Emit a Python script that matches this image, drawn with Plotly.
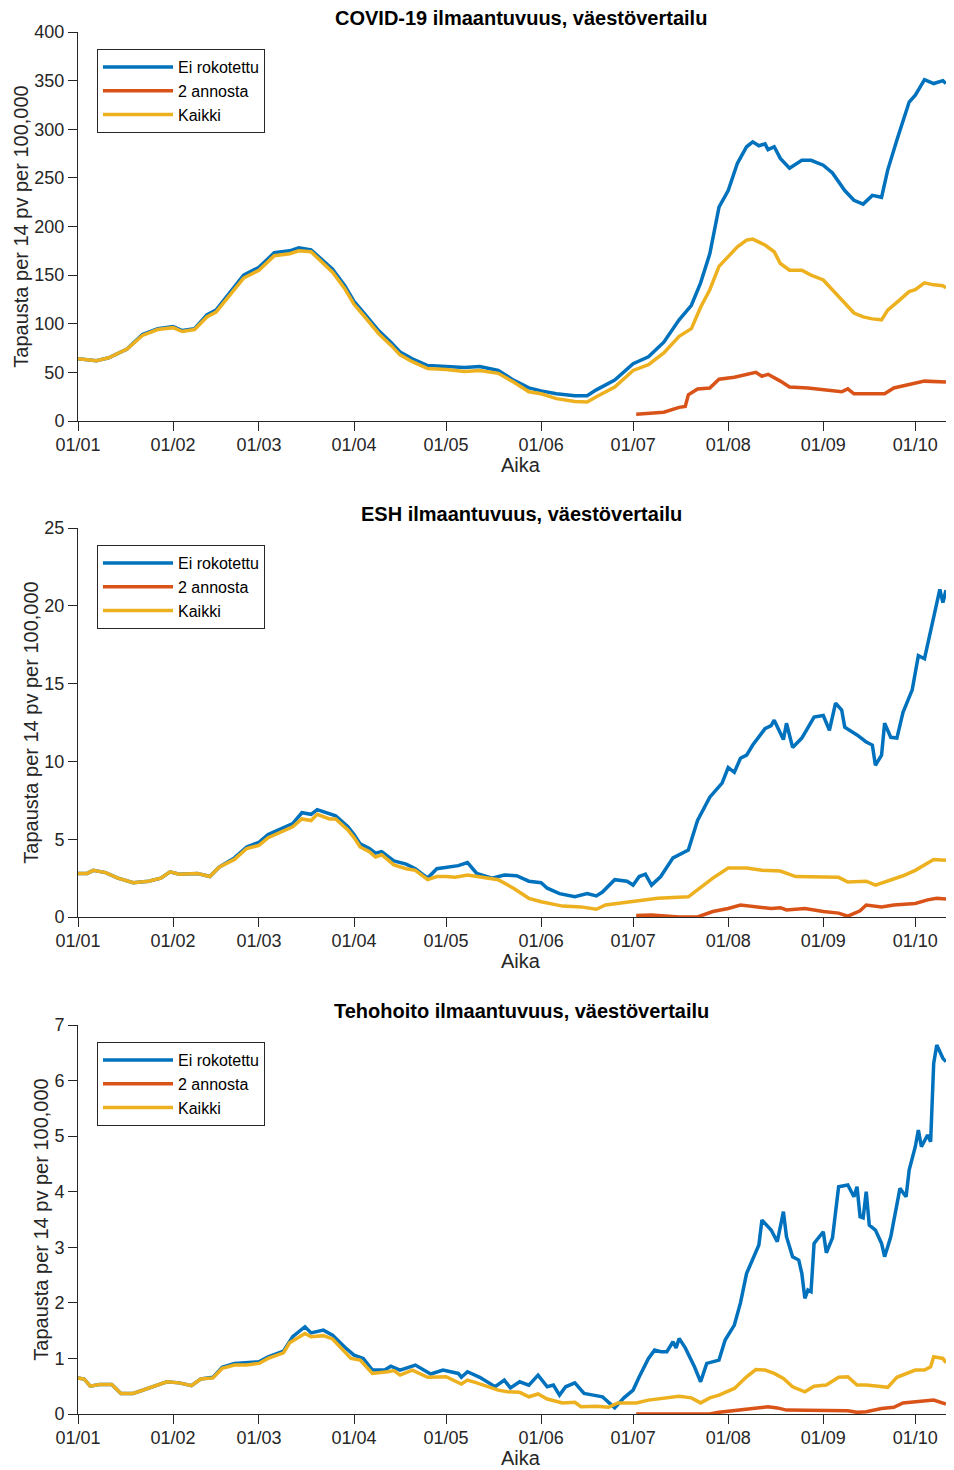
import pandas as pd
import plotly.graph_objects as go

BASE = pd.Timestamp("2021-01-01")

# ---------------- data (day offsets from 1 Jan 2021) ----------------
# Panel 1: COVID-19 ilmaantuvuus
covid_unvax_days = [0,6,10,16,21,26,31,34,38,42,45,50,54,59,64,69,72,76,80,83,87,90,93,98,102,105,109,114,120,126,
                    131,137,142,147,151,156,162,166,169,175,181,186,191,196,200,203,206,209,212,215,218,220,222,224,225,227,229,232,236,239,
                    243,246,250,253,256,259,262,264,267,271,273,276,279,282,283]
covid_unvax = [64,62,65,74,89,95,97,93,95,109,114,134,150,158,173,175,178,176,165,156,139,123,112,93,81,71,64,57,56,55,
               56,52,42,34,31,28,26,26,32,42,59,66,81,104,119,142,172,220,237,265,282,287,283,285,279,282,270,260,268,268,
               263,255,237,227,223,232,230,258,289,328,335,351,347,350,347]
covid_2dose_days = [182,191,196,198,199,202,206,209,214,218,221,223,225,229,232,238,245,249,251,253,262,263,266,270,276,283]
covid_2dose = [7,9,14,15,27,33,34,43,45,48,50,46,48,41,35,34,32,30,33,28,28,28,34,37,41,40]
covid_all_days = [0,6,10,16,21,26,31,34,38,42,45,50,54,59,64,69,72,76,80,83,87,90,93,98,102,105,109,114,120,126,
                  131,137,142,147,151,156,162,166,169,175,181,186,191,196,200,203,206,209,212,215,218,220,224,227,229,232,236,239,243,246,
                  250,253,256,259,262,264,267,271,273,276,279,282,283]
covid_all = [64,62,65,74,88,94,96,92,94,107,112,131,147,155,170,172,175,174,162,153,136,120,109,90,78,68,61,54,53,51,
             52,49,40,30,28,23,20,19.5,25,35,52,58,70,87,95,117,135,159,169,179,186,187,181,174,162,155,155,150,145,135,
             122,111,107,105,104,114,122,133,135,142,140,139,137]

# Panel 2: ESH ilmaantuvuus
esh_unvax_days = [0,3,5,9,13,18,23,27,30,33,39,43,46,51,55,59,62,67,70,73,76,78,82,84,88,90,92,95,97,99,
                  103,107,110,114,117,120,124,127,130,135,139,143,147,151,153,157,162,166,169,171,175,179,181,183,185,187,190,194,199,202,
                  206,210,212,214,216,218,220,224,226,227,230,231,233,236,238,240,243,245,247,249,250,254,257,259,260,262,263,265,267,269,
                  272,274,276,279,281,282,283]
esh_unvax = [2.8,2.8,3.0,2.85,2.5,2.2,2.3,2.5,2.9,2.75,2.8,2.6,3.2,3.8,4.5,4.8,5.3,5.7,6.0,6.7,6.6,6.9,6.6,6.5,5.8,5.3,4.7,4.4,4.1,4.2,
             3.6,3.4,3.1,2.5,3.1,3.2,3.3,3.5,2.8,2.5,2.7,2.65,2.3,2.2,1.85,1.5,1.3,1.5,1.35,1.6,2.4,2.3,2.05,2.6,2.75,2.05,2.6,3.8,4.3,6.2,
             7.7,8.6,9.6,9.3,10.2,10.4,11.05,12.1,12.3,12.65,11.4,12.45,10.9,11.5,12.15,12.85,12.95,12.0,13.75,13.3,12.2,11.7,11.25,11.05,9.75,10.4,12.45,11.55,11.5,13.15,
             14.6,16.8,16.6,19.4,21.05,20.2,21.0]
esh_2dose_days = [182,187,196,202,207,212,216,220,226,229,231,237,243,248,251,255,257,262,266,273,277,280,283]
esh_2dose = [0.1,0.13,0.0,0.0,0.35,0.55,0.77,0.67,0.55,0.6,0.45,0.55,0.35,0.25,0.05,0.4,0.77,0.65,0.77,0.87,1.1,1.2,1.15]
esh_all_days = [0,3,5,9,13,18,23,27,30,33,39,43,46,51,55,59,62,67,70,73,76,78,82,84,88,90,92,95,97,99,
                103,107,110,114,117,120,123,127,130,137,142,147,151,158,164,169,172,181,186,189,199,203,207,212,218,223,229,234,
                243,248,251,257,260,264,269,273,276,279,283]
esh_all = [2.8,2.8,3.0,2.85,2.5,2.2,2.3,2.5,2.9,2.75,2.8,2.6,3.2,3.7,4.4,4.6,5.1,5.5,5.8,6.3,6.2,6.6,6.3,6.3,5.6,5.1,4.5,4.2,3.85,4.0,
           3.35,3.1,3.0,2.4,2.6,2.6,2.55,2.7,2.6,2.4,1.85,1.2,0.98,0.7,0.65,0.5,0.77,1.0,1.15,1.2,1.3,1.9,2.5,3.15,3.15,3.0,2.95,2.6,
           2.6,2.55,2.25,2.3,2.05,2.3,2.65,3.0,3.35,3.7,3.65]

# Panel 3: Tehohoito ilmaantuvuus
icu_unvax_days = [0,2,4,7,11,12,14,18,21,26,29,33,37,40,44,47,51,59,62,67,70,74,76,80,83,87,90,93,96,100,
                  102,105,110,115,119,124,125,127,131,136,139,141,144,147,150,153,155,157,159,162,165,168,171,174,175,178,181,183,186,188,
                  190,192,194,195,196,198,201,203,205,209,211,214,216,218,220,222,223,226,228,230,231,233,235,236,237,238,239,240,243,244,
                  246,248,251,253,254,255,256,257,258,260,262,263,265,267,268,270,271,273,274,275,277,278,279,280,282,283]
icu_unvax = [0.65,0.63,0.5,0.53,0.53,0.48,0.37,0.37,0.43,0.52,0.58,0.56,0.51,0.63,0.66,0.84,0.91,0.94,1.03,1.13,
             1.39,1.57,1.46,1.51,1.42,1.2,1.06,1.0,0.79,0.79,0.86,0.79,0.88,0.72,0.79,0.73,0.66,0.76,0.66,0.49,
             0.61,0.47,0.58,0.52,0.70,0.49,0.52,0.34,0.49,0.56,0.37,0.34,0.31,0.16,0.11,0.29,0.43,0.67,1.0,1.15,
             1.12,1.12,1.30,1.19,1.36,1.19,0.85,0.58,0.91,0.97,1.33,1.6,2.0,2.53,2.8,3.04,3.49,3.31,3.10,3.64,
             3.19,2.83,2.77,2.53,2.08,2.23,2.2,3.07,3.28,2.9,3.17,4.09,4.12,3.91,4.09,3.55,3.53,4.0,3.4,3.31,
             3.07,2.83,3.19,3.79,4.06,3.91,4.39,4.81,5.11,4.81,5.02,4.9,6.31,6.64,6.4,6.34]
icu_2dose_days = [182,206,209,215,220,225,228,231,240,251,254,257,262,266,269,274,279,283]
icu_2dose = [0.0,0.0,0.03,0.06,0.1,0.13,0.11,0.07,0.06,0.06,0.03,0.04,0.1,0.12,0.2,0.22,0.25,0.18]
icu_all_days = [0,2,4,7,11,12,14,18,21,26,29,33,37,40,44,47,51,55,59,62,67,69,72,74,76,80,83,87,89,92,
                96,101,103,105,109,114,120,125,127,130,137,140,144,147,150,153,158,162,164,169,173,176,182,186,191,196,200,203,206,209,
                214,218,221,224,227,230,233,237,240,244,248,251,254,257,261,264,267,270,273,276,278,279,282,283]
icu_all = [0.65,0.63,0.5,0.53,0.53,0.48,0.37,0.37,0.43,0.52,0.58,0.56,0.51,0.63,0.65,0.82,0.88,0.88,0.91,1.0,
           1.1,1.28,1.39,1.45,1.39,1.41,1.35,1.12,1.0,0.97,0.73,0.76,0.78,0.70,0.79,0.66,0.67,0.54,0.61,0.56,
           0.43,0.4,0.39,0.31,0.36,0.27,0.2,0.21,0.13,0.14,0.12,0.2,0.2,0.25,0.29,0.32,0.29,0.2,0.29,0.34,
           0.46,0.67,0.8,0.79,0.73,0.64,0.49,0.4,0.5,0.52,0.66,0.67,0.52,0.52,0.5,0.48,0.66,0.72,0.79,0.79,
           0.85,1.03,1.0,0.92]

series_names = ["Ei rokotettu", "2 annosta", "Kaikki"]
titles = ["COVID-19 ilmaantuvuus, väestövertailu",
          "ESH ilmaantuvuus, väestövertailu",
          "Tehohoito ilmaantuvuus, väestövertailu"]
y_ranges = [(0, 400, 50), (0, 25, 5), (0, 7, 1)]
month_ticks = ["2021-%02d-01" % m for m in range(1, 11)]
month_labels = ["01/%02d" % m for m in range(1, 11)]
x_label = "Aika"
y_label = "Tapausta per 14 pv per 100,000"

panels = [
    [(covid_unvax_days, covid_unvax), (covid_2dose_days, covid_2dose), (covid_all_days, covid_all)],
    [(esh_unvax_days, esh_unvax), (esh_2dose_days, esh_2dose), (esh_all_days, esh_all)],
    [(icu_unvax_days, icu_unvax), (icu_2dose_days, icu_2dose), (icu_all_days, icu_all)],
]

# ---------------- styling ----------------
COLORS = ["#0072BD", "#D95319", "#EDB120"]
FONT = "Liberation Sans, Arial, Helvetica, sans-serif"
AXC = "#262626"
OFF = 8                      # default page body margin
W, H = 954 - OFF, 1470 - OFF
ML, MR, MT, MB = 78 - OFF, 1, 32 - OFF, 56
PW, PH = W - ML - MR, H - MT - MB
panel_px = [(32, 421), (528, 917), (1025, 1414)]   # page pixel rows of each plot area


def py(pix):
    return 1 - (pix - OFF - MT) / PH


def px(pix):
    return (pix - OFF - ML) / PW


def to_dates(days):
    return [BASE + pd.Timedelta(days=d) for d in days]


fig = go.Figure()
annotations = []
layout = dict(width=W, height=H, margin=dict(l=ML, r=MR, t=MT, b=MB),
              paper_bgcolor="white", plot_bgcolor="white",
              font=dict(family=FONT, color=AXC), showlegend=True)

x_end = BASE + pd.Timedelta(days=PW / 3.067)

for i, (series, (top, bot)) in enumerate(zip(panels, panel_px)):
    n = "" if i == 0 else str(i + 1)
    leg = "legend" + n
    for (days, vals), name, col in zip(series, series_names, COLORS):
        fig.add_trace(go.Scatter(x=to_dates(days), y=vals, mode="lines", name=name,
                                 line=dict(color=col, width=3.5),
                                 xaxis="x" + n, yaxis="y" + n, legend=leg))
    y0, y1, dy = y_ranges[i]
    layout["xaxis" + n] = dict(
        domain=[0, 1], anchor="y" + n, type="date",
        range=[BASE, x_end], tickvals=month_ticks, ticktext=month_labels,
        showline=True, linecolor=AXC, linewidth=1, ticks="outside", ticklen=9,
        tickcolor=AXC, tickwidth=1, showgrid=False, zeroline=False,
        ticklabelstandoff=-2,
        tickfont=dict(size=18, color=AXC, family=FONT))
    layout["yaxis" + n] = dict(
        domain=[py(bot), py(top)], anchor="x" + n, range=[y0, y1], dtick=dy, tick0=0,
        showline=True, linecolor=AXC, linewidth=1, ticks="outside", ticklen=9,
        tickcolor=AXC, tickwidth=1, showgrid=False, zeroline=False,
        tickfont=dict(size=18, color=AXC, family=FONT),
        title=dict(text=y_label, font=dict(size=20, color=AXC, family=FONT), standoff=0))
    layout[leg] = dict(x=px(97), y=py(top + 17), xanchor="left", yanchor="top",
                       bordercolor=AXC, borderwidth=1, bgcolor="white",
                       font=dict(size=16, color="black", family=FONT),
                       itemwidth=70, tracegroupgap=0)
    annotations.append(dict(text="<b>" + titles[i] + "</b>", x=px(521), y=py(top - 14),
                            xref="paper", yref="paper", xanchor="center", yanchor="middle",
                            showarrow=False, font=dict(size=20, color="black", family=FONT)))
    annotations.append(dict(text=x_label, x=px(521), y=py(bot + 44),
                            xref="paper", yref="paper", xanchor="center", yanchor="middle",
                            showarrow=False, font=dict(size=20, color=AXC, family=FONT)))

layout["annotations"] = annotations
fig.update_layout(**layout)
fig.write_html("out.html")
